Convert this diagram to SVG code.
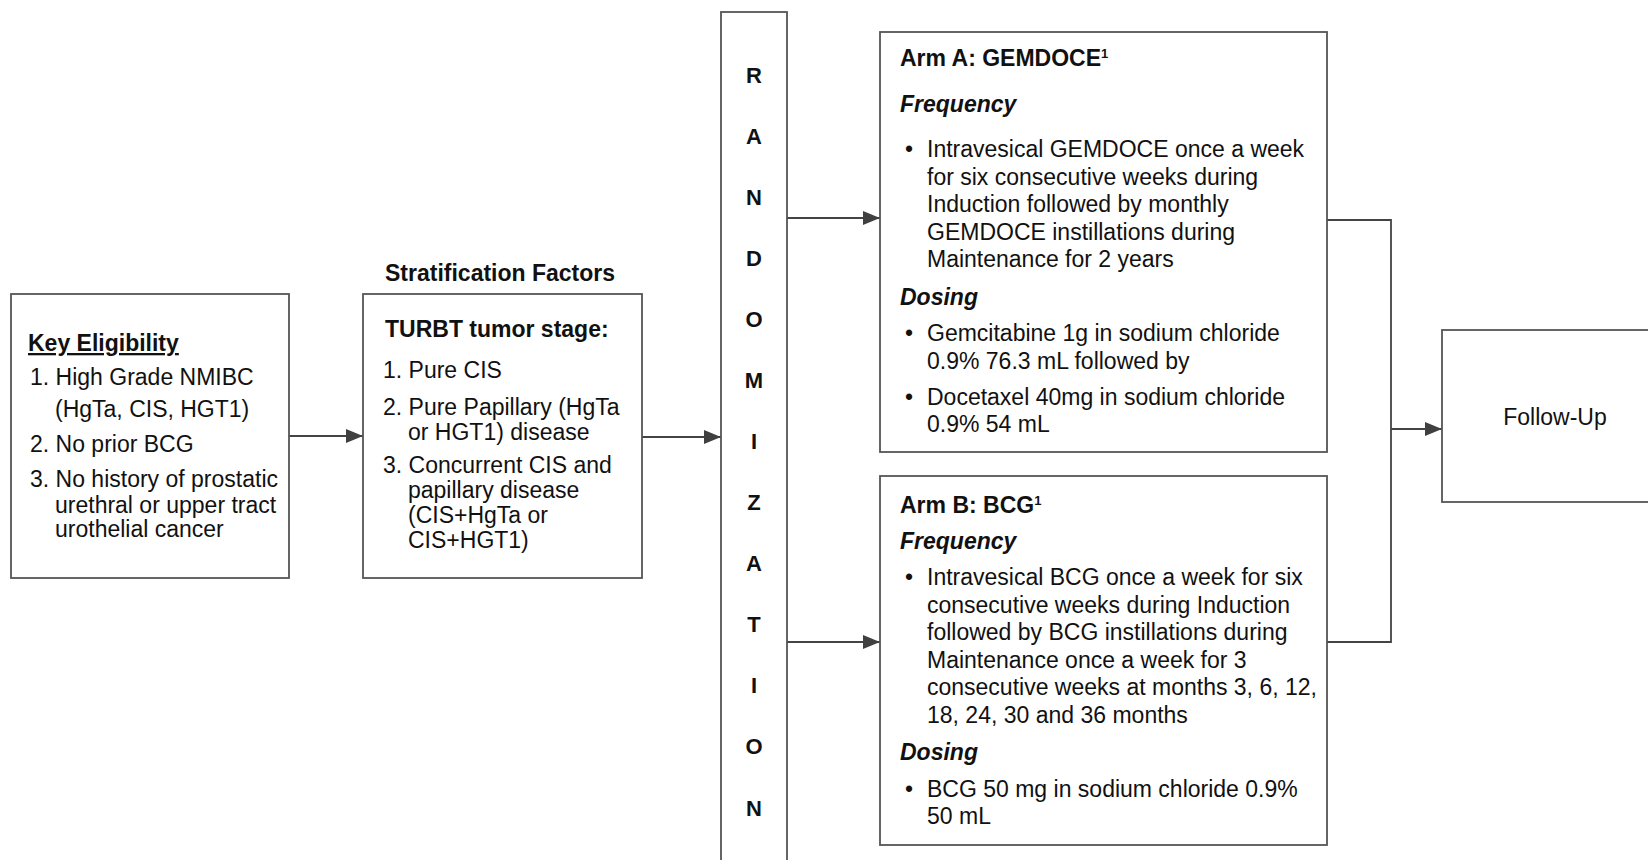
<svg xmlns="http://www.w3.org/2000/svg" width="1648" height="860" viewBox="0 0 1648 860">
<style>
  .box { fill: #ffffff; stroke: #555555; stroke-width: 1.8; }
  .t { font-family: "Liberation Sans", Arial, sans-serif; font-size: 23px; fill: #111111; }
  .b { font-weight: bold; }
  .bi { font-weight: bold; font-style: italic; }
  .rl { font-family: "Liberation Sans", Arial, sans-serif; font-size: 22px; font-weight: bold; fill: #111111; text-anchor: middle; }
  .conn { fill: none; stroke: #444444; stroke-width: 1.8; }
  .sup { font-size: 13px; font-weight: bold; }
</style>
<defs>
  <marker id="arr" viewBox="0 0 17 14" refX="17" refY="7" markerWidth="17" markerHeight="14" markerUnits="userSpaceOnUse" orient="auto">
    <path d="M0,0 L17,7 L0,14 Z" fill="#404040"/>
  </marker>
</defs>
<rect width="1648" height="860" fill="#ffffff"/>

<g id="connectors">
  <line class="conn" x1="289" y1="436" x2="363" y2="436" marker-end="url(#arr)"/>
  <line class="conn" x1="642" y1="437" x2="721" y2="437" marker-end="url(#arr)"/>
  <line class="conn" x1="787" y1="218" x2="880" y2="218" marker-end="url(#arr)"/>
  <line class="conn" x1="787" y1="642" x2="880" y2="642" marker-end="url(#arr)"/>
  <polyline class="conn" points="1327,220 1391,220 1391,642 1327,642"/>
  <line class="conn" x1="1391" y1="429" x2="1442" y2="429" marker-end="url(#arr)"/>
</g>

<g id="key-eligibility">
  <rect class="box" x="11" y="294" width="278" height="284"/>
  <text class="t b" x="28" y="351" text-decoration="underline">Key Eligibility</text>
  <text class="t" x="30" y="385">1. High Grade NMIBC</text>
  <text class="t" x="55" y="417">(HgTa, CIS, HGT1)</text>
  <text class="t" x="30" y="452">2. No prior BCG</text>
  <text class="t" x="30" y="486.5">3. No history of prostatic</text>
  <text class="t" x="55" y="512.5">urethral or upper tract</text>
  <text class="t" x="55" y="536.5">urothelial cancer</text>
</g>

<g id="stratification">
  <text class="t b" x="385" y="281">Stratification Factors</text>
  <rect class="box" x="363" y="294" width="279" height="284"/>
  <text class="t b" x="385" y="337">TURBT tumor stage:</text>
  <text class="t" x="383" y="378">1. Pure CIS</text>
  <text class="t" x="383" y="415">2. Pure Papillary (HgTa</text>
  <text class="t" x="408" y="440">or HGT1) disease</text>
  <text class="t" x="383" y="473">3. Concurrent CIS and</text>
  <text class="t" x="408" y="498">papillary disease</text>
  <text class="t" x="408" y="523">(CIS+HgTa or</text>
  <text class="t" x="408" y="548">CIS+HGT1)</text>
</g>

<g id="randomization">
  <rect class="box" x="721" y="12" width="66" height="870"/>
  <text class="rl" x="754" y="83">R</text>
  <text class="rl" x="754" y="144">A</text>
  <text class="rl" x="754" y="205">N</text>
  <text class="rl" x="754" y="266">D</text>
  <text class="rl" x="754" y="327">O</text>
  <text class="rl" x="754" y="388">M</text>
  <text class="rl" x="754" y="449">I</text>
  <text class="rl" x="754" y="510">Z</text>
  <text class="rl" x="754" y="571">A</text>
  <text class="rl" x="754" y="632">T</text>
  <text class="rl" x="754" y="693">I</text>
  <text class="rl" x="754" y="754">O</text>
  <text class="rl" x="754" y="816">N</text>
</g>

<g id="arm-a">
  <rect class="box" x="880" y="32" width="447" height="420"/>
  <text class="t b" x="900" y="66">Arm A: GEMDOCE<tspan class="sup" dy="-8">1</tspan></text>
  <text class="t bi" x="900" y="112">Frequency</text>
  <text class="t" x="905" y="157">•</text>
  <text class="t" x="927" y="157">Intravesical GEMDOCE once a week</text>
  <text class="t" x="927" y="184.5">for six consecutive weeks during</text>
  <text class="t" x="927" y="212">Induction followed by monthly</text>
  <text class="t" x="927" y="239.5">GEMDOCE instillations during</text>
  <text class="t" x="927" y="267">Maintenance for 2 years</text>
  <text class="t bi" x="900" y="305">Dosing</text>
  <text class="t" x="905" y="341">•</text>
  <text class="t" x="927" y="341">Gemcitabine 1g in sodium chloride</text>
  <text class="t" x="927" y="368.5">0.9% 76.3 mL followed by</text>
  <text class="t" x="905" y="405">•</text>
  <text class="t" x="927" y="405">Docetaxel 40mg in sodium chloride</text>
  <text class="t" x="927" y="432">0.9% 54 mL</text>
</g>

<g id="arm-b">
  <rect class="box" x="880" y="476" width="447" height="369"/>
  <text class="t b" x="900" y="512.5">Arm B: BCG<tspan class="sup" dy="-8">1</tspan></text>
  <text class="t bi" x="900" y="548.5">Frequency</text>
  <text class="t" x="905" y="585">•</text>
  <text class="t" x="927" y="585">Intravesical BCG once a week for six</text>
  <text class="t" x="927" y="612.5">consecutive weeks during Induction</text>
  <text class="t" x="927" y="640">followed by BCG instillations during</text>
  <text class="t" x="927" y="667.5">Maintenance once a week for 3</text>
  <text class="t" x="927" y="695">consecutive weeks at months 3, 6, 12,</text>
  <text class="t" x="927" y="722.5">18, 24, 30 and 36 months</text>
  <text class="t bi" x="900" y="760">Dosing</text>
  <text class="t" x="905" y="797">•</text>
  <text class="t" x="927" y="797">BCG 50 mg in sodium chloride 0.9%</text>
  <text class="t" x="927" y="824">50 mL</text>
</g>

<g id="follow-up">
  <rect class="box" x="1442" y="330" width="226" height="172"/>
  <text class="t" x="1555" y="425" text-anchor="middle">Follow-Up</text>
</g>
</svg>
